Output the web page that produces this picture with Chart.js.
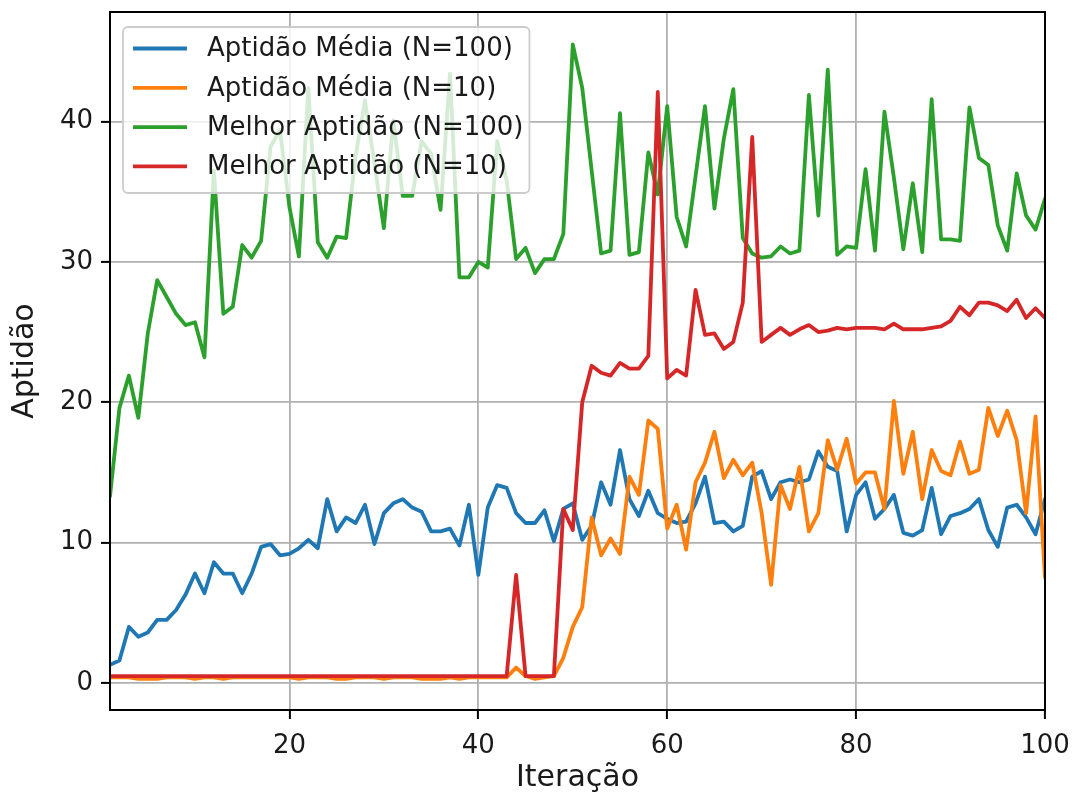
<!DOCTYPE html>
<html>
<head>
<meta charset="utf-8">
<script src="https://cdn.jsdelivr.net/npm/chart.js@4"></script>
<style>
body{margin:0;background:#fff;}
canvas{display:block;}
</style>
</head>
<body>
<canvas id="chart" width="1073" height="796"></canvas>
<script>
// iteration numbers 1..100
const iteracoes = Array.from({length:100}, (_, i) => i + 1);

const mediaN100 = [
1.3,1.6,4.0,3.3,3.6,4.5,4.5,5.2,6.3,7.8,6.4,8.6,7.8,7.8,6.4,7.8,9.7,9.9,9.1,9.2,
9.6,10.2,9.6,13.1,10.8,11.8,11.4,12.7,9.9,12.1,12.8,13.1,12.5,12.2,10.8,10.8,11.0,9.8,12.7,7.7,
12.5,14.1,13.9,12.1,11.4,11.4,12.3,10.1,12.4,12.8,10.2,11.2,14.3,12.7,16.6,13.1,11.9,13.7,12.1,11.7,
11.4,11.5,12.8,14.7,11.4,11.5,10.8,11.2,14.7,15.1,13.1,14.3,14.5,14.3,14.5,16.5,15.4,15.1,10.8,13.4,
14.3,11.7,12.4,13.4,10.7,10.5,10.9,13.9,10.6,11.9,12.1,12.4,13.1,10.9,9.7,12.5,12.7,11.8,10.6,13.1
];

const mediaN10 = [
0.4,0.4,0.4,0.3,0.3,0.3,0.4,0.4,0.4,0.3,0.4,0.4,0.3,0.4,0.4,0.4,0.4,0.4,0.4,0.4,
0.3,0.4,0.4,0.4,0.3,0.3,0.4,0.4,0.4,0.3,0.4,0.4,0.4,0.3,0.3,0.3,0.4,0.3,0.4,0.4,
0.4,0.4,0.4,1.1,0.5,0.3,0.4,0.5,1.8,4.0,5.4,11.8,9.1,10.3,9.2,14.7,13.4,18.7,18.1,11.0,
12.7,9.5,14.3,15.7,17.9,14.6,15.9,14.8,15.7,12.1,7.0,14.1,12.4,15.4,10.8,12.1,17.3,15.2,17.4,14.2,
15.0,15.0,12.4,20.1,14.9,17.9,13.1,16.6,15.1,14.8,17.2,14.9,15.2,19.6,17.6,19.4,17.3,12.1,19.0,7.5
];

const melhorN100 = [
13.3,19.6,21.9,18.9,24.9,28.7,27.5,26.3,25.5,25.7,23.2,36.5,26.3,26.8,31.2,30.3,31.5,38.2,39.4,33.9,
30.4,42.4,31.4,30.3,31.8,31.7,37.5,41.5,37.0,32.4,40.1,34.7,34.7,38.6,37.7,33.7,43.4,28.9,28.9,30.0,
29.6,38.6,35.8,30.2,31.0,29.2,30.2,30.2,32.0,45.5,42.4,36.5,30.6,30.8,40.6,30.5,30.7,37.8,34.8,41.1,
33.2,31.1,36.1,41.1,33.8,38.8,42.3,31.7,30.6,30.3,30.4,31.1,30.6,30.8,41.9,33.3,43.7,30.5,31.1,31.0,
36.6,30.8,40.7,36.0,30.9,35.6,30.7,41.6,31.6,31.6,31.5,41.0,37.4,36.9,32.6,30.8,36.3,33.3,32.3,34.5
];

const melhorN10 = [
0.5,0.5,0.5,0.5,0.5,0.5,0.5,0.5,0.5,0.5,0.5,0.5,0.5,0.5,0.5,0.5,0.5,0.5,0.5,0.5,
0.5,0.5,0.5,0.5,0.5,0.5,0.5,0.5,0.5,0.5,0.5,0.5,0.5,0.5,0.5,0.5,0.5,0.5,0.5,0.5,
0.5,0.5,0.5,7.7,0.5,0.5,0.5,0.5,12.4,10.9,20.0,22.6,22.1,21.9,22.8,22.4,22.4,23.3,42.1,21.7,
22.3,21.9,28.0,24.8,24.9,23.8,24.3,27.1,38.9,24.3,24.8,25.3,24.8,25.2,25.5,25.0,25.1,25.3,25.2,25.3,
25.3,25.3,25.2,25.6,25.2,25.2,25.2,25.3,25.4,25.8,26.8,26.2,27.1,27.1,26.9,26.5,27.3,26.0,26.7,26.0
];

const xTicks = [20, 40, 60, 80, 100];
const yTicks = [0, 10, 20, 30, 40];

const FONT = '"DejaVu Sans", sans-serif';
const TEXT = '#1a1a1a';

function pts(vals){
return vals.map((v, i) => ({x: iteracoes[i], y: v}));
}

// matplotlib style frame + legend inside the axes
const frameLegend = {
id: 'frameLegend',
afterDatasetsDraw(chart){
const ctx = chart.ctx;
const a = chart.chartArea;
ctx.save();

ctx.strokeStyle = '#000';
ctx.lineWidth = 2;
ctx.strokeRect(a.left, a.top, a.right - a.left, a.bottom - a.top);

const ds = chart.data.datasets;
ctx.font = '26px ' + FONT;
const maxW = Math.max(...ds.map(d => ctx.measureText(d.label).width));
const bx = a.left + 13, by = a.top + 15;
const textX = bx + 84;
const bw = textX + maxW + 6 - bx, bh = 166, r = 5;

ctx.beginPath();
ctx.moveTo(bx + r, by);
ctx.arcTo(bx + bw, by, bx + bw, by + bh, r);
ctx.arcTo(bx + bw, by + bh, bx, by + bh, r);
ctx.arcTo(bx, by + bh, bx, by, r);
ctx.arcTo(bx, by, bx + bw, by, r);
ctx.closePath();
ctx.fillStyle = 'rgba(255,255,255,0.8)';
ctx.fill();
ctx.strokeStyle = '#cccccc';
ctx.lineWidth = 1.8;
ctx.stroke();

ds.forEach((d, i) => {
const y = by + 21.5 + i * 39.3;
ctx.strokeStyle = d.borderColor;
ctx.lineWidth = 3.8;
ctx.beginPath();
ctx.moveTo(bx + 10, y);
ctx.lineTo(bx + 64, y);
ctx.stroke();
ctx.fillStyle = TEXT;
ctx.textBaseline = 'middle';
ctx.textAlign = 'left';
ctx.fillText(d.label, textX, y + 1);
});
ctx.restore();
}
};

Chart.defaults.font.family = FONT;
Chart.defaults.color = TEXT;

new Chart(document.getElementById('chart'), {
type: 'line',
data: {
datasets: [
{label:'Aptidão Média (N=100)', data:pts(mediaN100), borderColor:'#1f77b4', order:4},
{label:'Aptidão Média (N=10)', data:pts(mediaN10), borderColor:'#ff7f0e', order:3},
{label:'Melhor Aptidão (N=100)', data:pts(melhorN100), borderColor:'#2ca02c', order:2},
{label:'Melhor Aptidão (N=10)', data:pts(melhorN10), borderColor:'#d62728', order:1}
]
},
options: {
responsive: false,
animation: false,
devicePixelRatio: 1,
layout: {padding: {left: 0, top: 12, right: 28, bottom: 0}},
elements: {
line: {borderWidth: 3.8, tension: 0, fill: false, borderJoinStyle: 'round', borderCapStyle: 'round'},
point: {radius: 0, hoverRadius: 0}
},
plugins: {legend: {display: false}, tooltip: {enabled: false}},
scales: {
x: {
type: 'linear',
min: 1, max: 100,
afterBuildTicks: s => { s.ticks = xTicks.map(v => ({value: v})); },
afterFit: s => { s.height = 86; s.paddingLeft = 0; s.paddingRight = 0; },
border: {display: false},
grid: {color: '#b0b0b0', lineWidth: 1.8, tickColor: '#000', tickLength: 9, tickWidth: 2},
ticks: {font: {size: 26}, color: TEXT, padding: 12, maxRotation: 0},
title: {display: true, text: 'Iteração', font: {size: 30}, color: TEXT, padding: {top: 0, bottom: 0}}
},
y: {
type: 'linear',
min: -1.92, max: 47.8,
afterBuildTicks: s => { s.ticks = yTicks.map(v => ({value: v})); },
afterFit: s => { s.width = 110; s.paddingTop = 0; s.paddingBottom = 0; },
border: {display: false},
grid: {color: '#b0b0b0', lineWidth: 1.8, tickColor: '#000', tickLength: 9, tickWidth: 2},
ticks: {font: {size: 26}, color: TEXT, padding: 8},
title: {display: true, text: 'Aptidão', font: {size: 30}, color: TEXT, padding: {top: 7, bottom: 0}}
}
}
},
plugins: [frameLegend]
});
</script>
</body>
</html>
